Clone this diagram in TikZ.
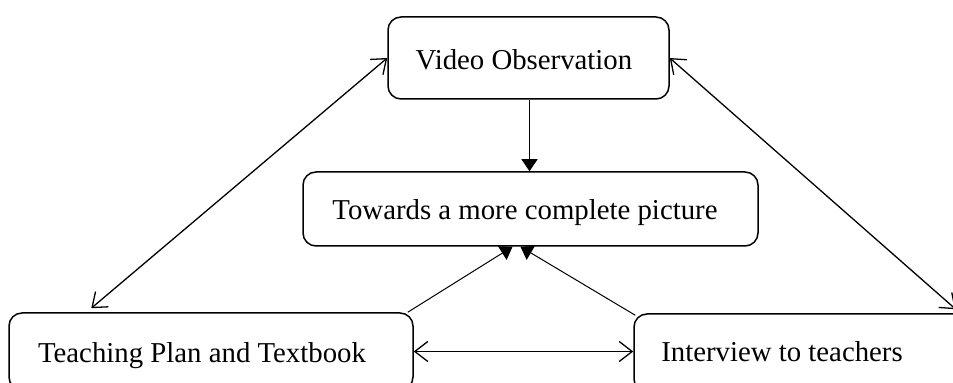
\documentclass[tikz,border=0pt]{standalone}
\usepackage{fontspec}
\setmainfont{Liberation Serif}
\usetikzlibrary{arrows.meta,calc}
\begin{document}
\begin{tikzpicture}[x=0.5pt,y=-0.5pt,
  box/.style={draw,line width=0.75pt,rounded corners=6.5pt,inner sep=0pt},
  lbl/.style={anchor=base,inner sep=0pt,font=\fontsize{14.4}{17}\selectfont},
  twoway/.style={line width=0.65pt,{Straight Barb[length=6.5pt,width=10pt]}-{Straight Barb[length=6.5pt,width=10pt]}},
  oneway/.style={line width=0.5pt,-{Triangle[length=6pt,width=8pt]}}]
\useasboundingbox (0,0) rectangle (953,383);
\clip (0,0) rectangle (953,383);
\node[box,minimum width=140.5pt,minimum height=41pt] (video) at (528.5,58) {};
\node[box,minimum width=227.5pt,minimum height=37pt] (tow) at (530.5,209) {};
\node[box,minimum width=202pt,minimum height=38.5pt] (teach) at (211,351.5) {};
\node[box,minimum width=175pt,minimum height=39pt] (inter) at (809,353) {};
\node[lbl] (tvideo) at (524,70) {Video Observation};
\node[lbl] (ttow) at (525,220) {Towards a more complete picture};
\node[lbl] (tteach) at (202,363) {Teaching Plan and Textbook};
\node[lbl] (tinter) at (782,362) {Interview to teachers};
\draw[oneway] ([xshift=0.5pt]video.south) -- ([xshift=-0.5pt]tow.north);
\draw[twoway] (video.west) -- ([xshift=41.5pt,yshift=2pt]teach.north west);
\draw[twoway] (video.east) -- ([xshift=-14.5pt,yshift=2pt]inter.north east);
\draw[twoway] (teach.east) -- (teach.east -| inter.west);
\draw[oneway] ([xshift=-3pt]teach.north east) -- ([xshift=-9pt]tow.south);
\draw[oneway] ([xshift=1pt,yshift=-1pt]inter.north west) -- ([xshift=-5pt]tow.south);
\end{tikzpicture}
\end{document}
